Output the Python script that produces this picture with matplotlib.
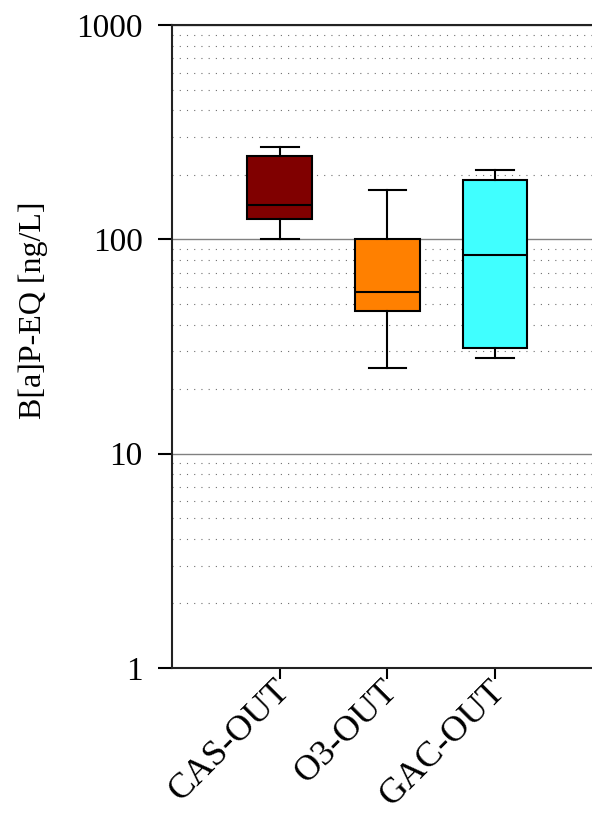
import matplotlib
matplotlib.use("Agg")
import matplotlib.pyplot as plt
import matplotlib.transforms as mtransforms
from matplotlib.ticker import FixedLocator, FixedFormatter, LogLocator, NullFormatter

# Box-plot summary statistics (ng/L)
categories = ["CAS-OUT", "O3-OUT", "GAC-OUT"]
whisker_low = [100, 25, 28]
quartile_1 = [124, 46.5, 31]
median = [145, 57, 84.5]
quartile_3 = [245, 100, 190]
whisker_high = [270, 170, 210]
box_colors = ["#800000", "#FF8000", "#40FFFF"]

y_ticks = [1, 10, 100, 1000]
y_tick_labels = ["1", "10", "100", "1000"]

plt.rcParams["font.family"] = ["Liberation Serif", "DejaVu Serif"]

fig = plt.figure(figsize=(5.92, 8.14), dpi=100)
ax = fig.add_axes([172 / 592, 146 / 814, 1 - 172 / 592, (668 - 25) / 814])

stats = []
for i, name in enumerate(categories):
    stats.append(dict(label=name, whislo=whisker_low[i], q1=quartile_1[i],
                      med=median[i], q3=quartile_3[i], whishi=whisker_high[i],
                      fliers=[]))

positions = list(range(1, len(categories) + 1))
bp = ax.bxp(stats, positions=positions, widths=0.6, patch_artist=True,
            showfliers=False,
            boxprops=dict(edgecolor="black", linewidth=1.5),
            medianprops=dict(color="black", linewidth=1.5),
            whiskerprops=dict(color="black", linewidth=1.5),
            capprops=dict(color="black", linewidth=1.5),
            capwidths=0.35)
for patch, c in zip(bp["boxes"], box_colors):
    patch.set_facecolor(c)
for artist_list in bp.values():
    for a in artist_list:
        a.set_zorder(3)

ax.set_yscale("log")
ax.set_ylim(1, 1000)
ax.set_xlim(0, 3.9)

ax.yaxis.set_major_locator(FixedLocator(y_ticks))
ax.yaxis.set_major_formatter(FixedFormatter(y_tick_labels))
ax.yaxis.set_minor_locator(LogLocator(base=10, subs=range(2, 10)))
ax.yaxis.set_minor_formatter(NullFormatter())

# category ticks; the slanted names are placed just below them
ax.set_xticks(positions)
ax.set_xticklabels([])
label_offset = mtransforms.ScaledTranslation(0.05, -0.177, fig.dpi_scale_trans)
for pos, name in zip(positions, categories):
    ax.text(pos, 0, name, transform=ax.get_xaxis_transform() + label_offset,
            rotation=45, ha="right", va="center", rotation_mode="anchor",
            fontsize=26)

ax.tick_params(axis="y", which="major", direction="out", length=10, width=1.5,
               labelsize=24, pad=11)
ax.tick_params(axis="y", which="minor", length=0)
ax.tick_params(axis="x", direction="out", length=8, width=1.5)

ax.set_axisbelow(True)
ax.grid(True, which="major", axis="y", color="#808080", linewidth=1.0)
ax.grid(True, which="minor", axis="y", color="#707070", linewidth=0.8,
        linestyle=(0, (1, 5.5)))

for side in ("left", "top", "bottom"):
    ax.spines[side].set_linewidth(1.5)
    ax.spines[side].set_color("#222222")
ax.spines["right"].set_visible(False)

ax.set_ylabel("B[a]P-EQ [ng/L]", fontsize=23)
ax.yaxis.label.set_verticalalignment("center")
ax.yaxis.set_label_coords((33 - 172) / 420, (668 - 310) / 643)

fig.savefig("out.png", dpi=100)
